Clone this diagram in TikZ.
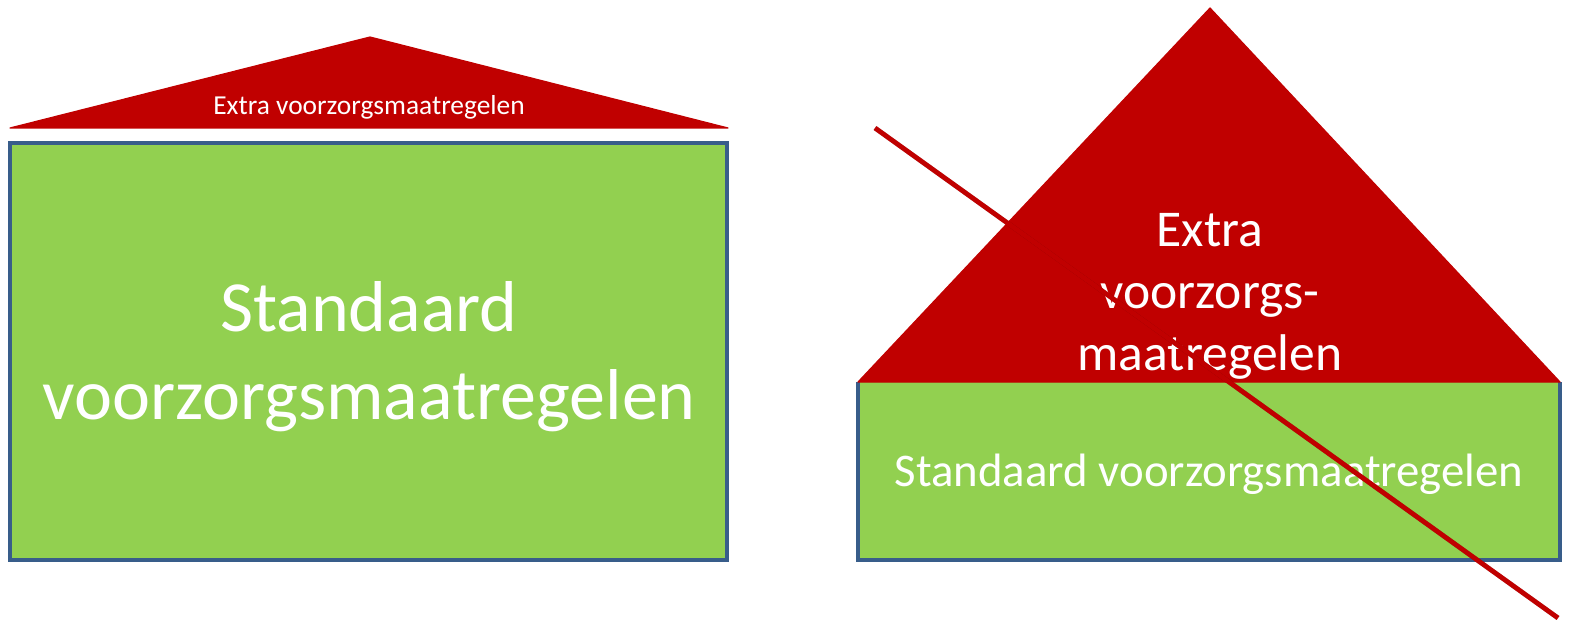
\documentclass[tikz,border=0pt]{standalone}
\usepackage{fontspec}
\setmainfont{Carlito}
\usetikzlibrary{positioning}

\definecolor{roofred}{RGB}{192,0,0}
\definecolor{basegreen}{RGB}{146,208,80}
\definecolor{edgeblue}{RGB}{56,93,138}

\tikzset{
  roof/.style={fill=roofred, draw=roofred, line width=0.6pt, line join=round},
  basebox/.style={fill=basegreen, draw=edgeblue, line width=2pt},
  wtext/.style={text=white, inner sep=0pt, align=center},
}

\begin{document}
\begin{tikzpicture}[x=0.5pt,y=0.5pt,yscale=-1,xscale=1]
\useasboundingbox (0,0) rectangle (1593,630);

%Left house: flat roof
\draw [roof] (10,128) -- (370,37) -- (728,128) -- cycle;
%Left house: base
\draw [basebox] (10,143) rectangle (727,560);

%Right house: base
\fill [basegreen] (858,382) rectangle (1560,560);
\draw [edgeblue, line width=2pt] (858,382) -- (858,560) -- (1560,560) -- (1560,382);
%Right house: steep roof
\draw [roof] (858,382) -- (1210,8) -- (1560,382) -- cycle;

% Text Node
\node (extra small) at (369,107) [wtext, font=\fontsize{13.7}{16}\selectfont] {Extra voorzorgsmaatregelen};
% Text Node
\node (standard big) at (369,357) [wtext, font=\fontsize{36}{44}\selectfont] {Standaard\\voorzorgsmaatregelen};
% Text Node
\node (extra big) at (1210,296) [wtext, font=\fontsize{25.8}{31}\selectfont] {Extra\\voorzorgs-\\maatregelen};
% Text Node
\node (standard small) at (1209,474) [wtext, font=\fontsize{23.4}{28}\selectfont] {Standaard voorzorgsmaatregelen};

%Straight Lines: crossing out
\coordinate (cross start) at (875,128);
\coordinate (cross end) at (1558,618);
\draw [black, opacity=0.25, line width=2.4pt, shift={(1.5,2)}] (cross start) -- (cross end);
\draw [roofred, line width=2.4pt] (cross start) -- (cross end);

\end{tikzpicture}
\end{document}
